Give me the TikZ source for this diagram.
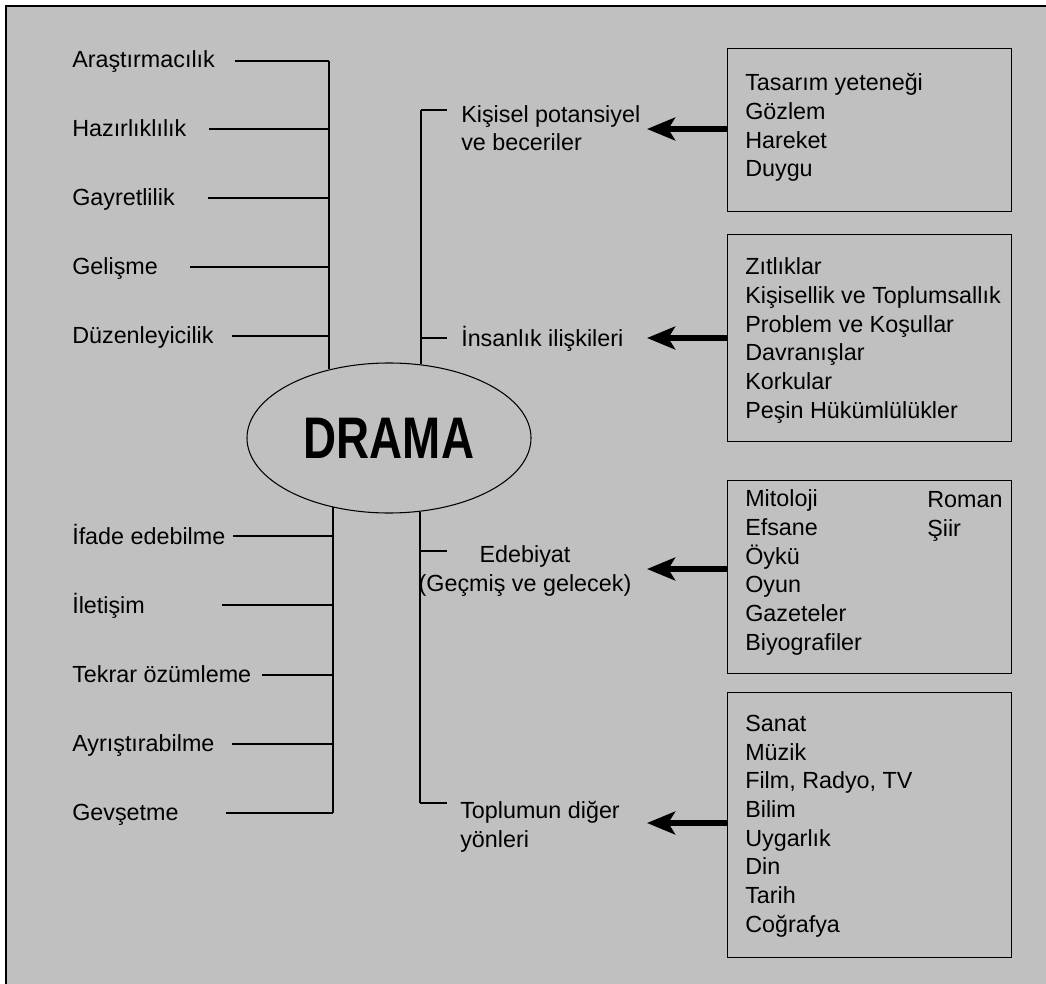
\documentclass[tikz,border=0pt]{standalone}
\usepackage{fontspec}
\setmainfont{Liberation Sans}
\usetikzlibrary{arrows.meta,shapes.geometric}

\definecolor{zemin}{RGB}{192,192,192}
\tikzset{
  yazi/.style={anchor=base west, inner sep=0pt, font=\fontsize{17.5}{21.5}\selectfont},
  liste/.style={yazi, align=left},
  kutu/.style={draw, line width=1.1pt, anchor=north west, minimum width=213pt, inner sep=0pt},
  cizgi/.style={line width=0.8pt},
  ok/.style={line width=4.5pt, -{Stealth[length=21pt, width=17pt, inset=5pt]}}
}

\begin{document}
\begin{tikzpicture}[x=0.75pt, y=-0.75pt]
        \useasboundingbox (0,0) rectangle (1046,984);
        \fill [white] (0,0) rectangle (1046,984);
        \fill [zemin] (6,6) rectangle (1046,984);
        \draw [line width=1.5pt] (6,984) -- (6,6) -- (1046,6);

        % merkez
        \node [ellipse, draw, cizgi, minimum width=213pt, minimum height=112.5pt, inner sep=0pt] (drama) at (389,438)
              {\scalebox{0.78}[1]{\fontsize{44}{44}\selectfont\bfseries DRAMA}};

        \coordinate (sl1) at (329,61);
        \coordinate (sl2) at (333,813);
        \coordinate (sr1) at (421,110);
        \coordinate (sr2) at (420,803);
        \draw [cizgi] (sl1) -- (sl1 |- drama.131);
        \draw [cizgi] (sl2) -- (sl2 |- drama.231);
        \draw [cizgi] (sr1) -- (sr1 |- drama.66);
        \draw [cizgi] (sr2) -- (sr2 |- drama.-67);

        % sol taraf
        \node [yazi] (a1) at (72,68) {Araştırmacılık};
        \node [yazi] (a2) at (72,137) {Hazırlıklılık};
        \node [yazi] (a3) at (72,206) {Gayretlilik};
        \node [yazi] (a4) at (72,275) {Gelişme};
        \node [yazi] (a5) at (72,344) {Düzenleyicilik};
        \node [yazi] (a6) at (72,544) {İfade edebilme};
        \node [yazi] (a7) at (72,613) {İletişim};
        \node [yazi] (a8) at (72,682) {Tekrar özümleme};
        \node [yazi] (a9) at (72,751) {Ayrıştırabilme};
        \node [yazi] (a10) at (72,820) {Gevşetme};

        \coordinate (a1u) at (235,61);  \draw [cizgi] (a1u) -- (a1u -| sl1);
        \coordinate (a2u) at (209,129); \draw [cizgi] (a2u) -- (a2u -| sl1);
        \coordinate (a3u) at (208,198); \draw [cizgi] (a3u) -- (a3u -| sl1);
        \coordinate (a4u) at (190,267); \draw [cizgi] (a4u) -- (a4u -| sl1);
        \coordinate (a5u) at (232,336); \draw [cizgi] (a5u) -- (a5u -| sl1);
        \coordinate (a6u) at (233,536); \draw [cizgi] (a6u) -- (a6u -| sl2);
        \coordinate (a7u) at (222,605); \draw [cizgi] (a7u) -- (a7u -| sl2);
        \coordinate (a8u) at (262,675); \draw [cizgi] (a8u) -- (a8u -| sl2);
        \coordinate (a9u) at (232,744); \draw [cizgi] (a9u) -- (a9u -| sl2);
        \coordinate (a10u) at (226,813); \draw [cizgi] (a10u) -- (a10u -| sl2);

        % orta
        \coordinate (k1) at (447,110);
        \coordinate (k2) at (447,338);
        \coordinate (k3) at (447,551);
        \coordinate (k4) at (447,803);
        \draw [cizgi] (sr1) -- (k1);
        \draw [cizgi] (k2 -| sr1) -- (k2);
        \draw [cizgi] (k3 -| sr2) -- (k3);
        \draw [cizgi] (sr2) -- (k4);

        % cok satirli dugumlerde base = son satir
        \node [liste] (kisisel) at (461,151) {Kişisel potansiyel\\ve beceriler};
        \node [yazi] (insan) at (461,346) {İnsanlık ilişkileri};
        \node [liste, align=center, anchor=base] (edeb) at (525,591) {Edebiyat\\(Geçmiş ve gelecek)};
        \node [liste] (toplum) at (460,847) {Toplumun diğer\\yönleri};

        % kutular
        \node [kutu, minimum height=122.25pt] (b1) at (727,48) {};
        \node [kutu, minimum height=155.25pt] (b2) at (727,234) {};
        \node [kutu, minimum height=144.75pt] (b3) at (727,480) {};
        \node [kutu, minimum height=198.75pt] (b4) at (727,692) {};

        \node [liste] (l1) at (745,177) {Tasarım yeteneği\\Gözlem\\Hareket\\Duygu};
        \node [liste] (l2) at (745,418) {Zıtlıklar\\Kişisellik ve Toplumsallık\\Problem ve Koşullar\\Davranışlar\\Korkular\\Peşin Hükümlülükler};
        \node [liste] (l3) at (745,650) {Mitoloji\\Efsane\\Öykü\\Oyun\\Gazeteler\\Biyografiler};
        \node [liste] (l3b) at (927,536) {Roman\\Şiir};
        \node [liste] (l4) at (745,932) {Sanat\\Müzik\\Film, Radyo, TV\\Bilim\\Uygarlık\\Din\\Tarih\\Coğrafya};

        % oklar
        \coordinate (t1) at (647,129); \draw [ok] (b1.west |- t1) -- (t1);
        \coordinate (t2) at (647,338); \draw [ok] (b2.west |- t2) -- (t2);
        \coordinate (t3) at (647,569); \draw [ok] (b3.west |- t3) -- (t3);
        \coordinate (t4) at (647,823); \draw [ok] (b4.west |- t4) -- (t4);
      \end{tikzpicture}
\end{document}
